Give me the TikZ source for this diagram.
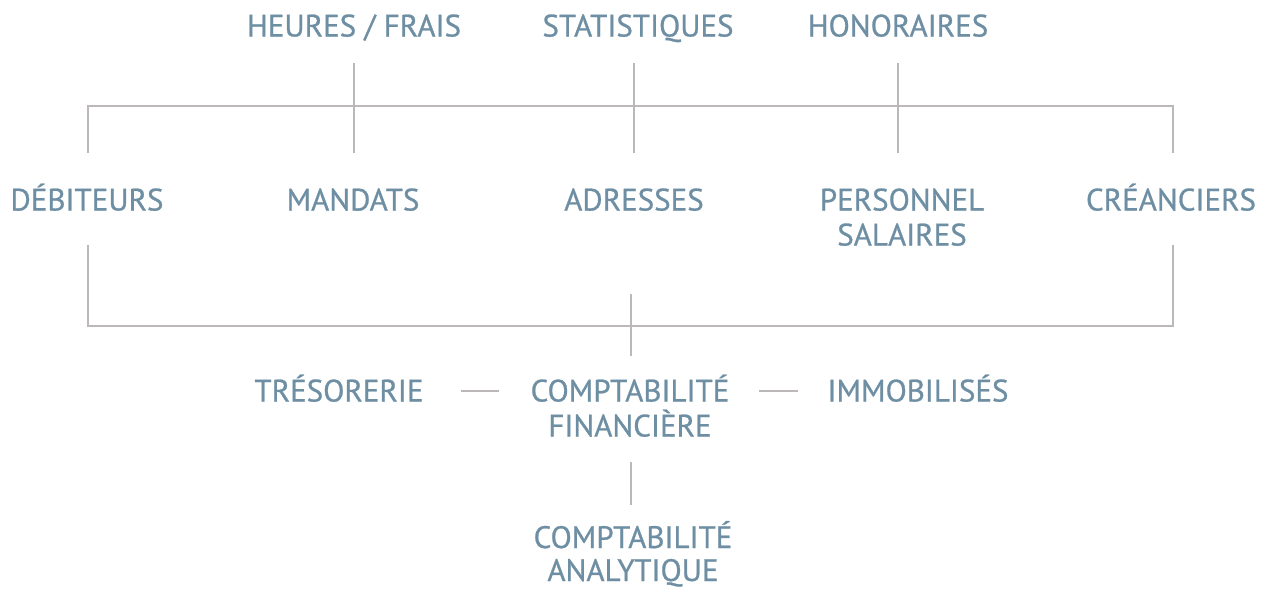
\documentclass[tikz,border=0pt]{standalone}
\usepackage{fontspec}
\setmainfont{PT Sans}[FakeBold=0.8]
\definecolor{txt}{HTML}{6E8FA3}
\definecolor{ln}{HTML}{BCB7B9}
\begin{document}
\begin{tikzpicture}[x=1pt,y=-1pt,
  lbl/.style={text=txt,font=\fontsize{31}{35}\selectfont,align=center,inner sep=0pt,anchor=base},
  conn/.style={draw=ln,line width=2.7pt}]
\useasboundingbox (0,0) rectangle (1271,590);
% top row
\node[lbl] (heures) at (354,36.5) {HEURES / FRAIS};
\node[lbl] (stat) at (638,36.5) {STATISTIQUES};
\node[lbl] (hono) at (898,36.5) {HONORAIRES};
% middle row (base of last line)
\node[lbl] (deb) at (87,210.5) {DÉBITEURS};
\node[lbl] (mand) at (353,210.5) {MANDATS};
\node[lbl] (adr) at (634,210.5) {ADRESSES};
\node[lbl] (pers) at (902,245.5) {PERSONNEL\\SALAIRES};
\node[lbl] (cre) at (1171,210.5) {CRÉANCIERS};
% third row
\node[lbl] (tres) at (339,401.5) {TRÉSORERIE};
\node[lbl] (cf) at (630,436.5) {COMPTABILITÉ\\FINANCIÈRE};
\node[lbl] (imm) at (918,401.5) {IMMOBILISÉS};
\node[lbl,font=\fontsize{31}{33}\selectfont] (ca) at (633,581) {COMPTABILITÉ\\ANALYTIQUE};
% coordinates
\coordinate (h1) at (354,63); \coordinate (h2) at (354,153);
\coordinate (s1) at (634,63); \coordinate (s2) at (634,153);
\coordinate (o1) at (898,63); \coordinate (o2) at (898,153);
\coordinate (tl) at (88,153); \coordinate (tr) at (1173,153);
\coordinate (bl) at (88,245); \coordinate (br) at (1173,245);
\coordinate (c1) at (631,294); \coordinate (c2) at (631,356);
\coordinate (d1) at (461,391); \coordinate (d2) at (499,391);
\coordinate (e1) at (759,391); \coordinate (e2) at (798,391);
\coordinate (v1) at (631,462); \coordinate (v2) at (631,505);
% connectors
\draw[conn] (tl) -- (88,106) -- (1173,106) -- (tr);
\draw[conn] (h1) -- (h2);
\draw[conn] (s1) -- (s2);
\draw[conn] (o1) -- (o2);
\draw[conn] (bl) -- (88,326) -- (1173,326) -- (br);
\draw[conn] (c1) -- (c2);
\draw[conn] (d1) -- (d2);
\draw[conn] (e1) -- (e2);
\draw[conn] (v1) -- (v2);
\end{tikzpicture}
\end{document}
